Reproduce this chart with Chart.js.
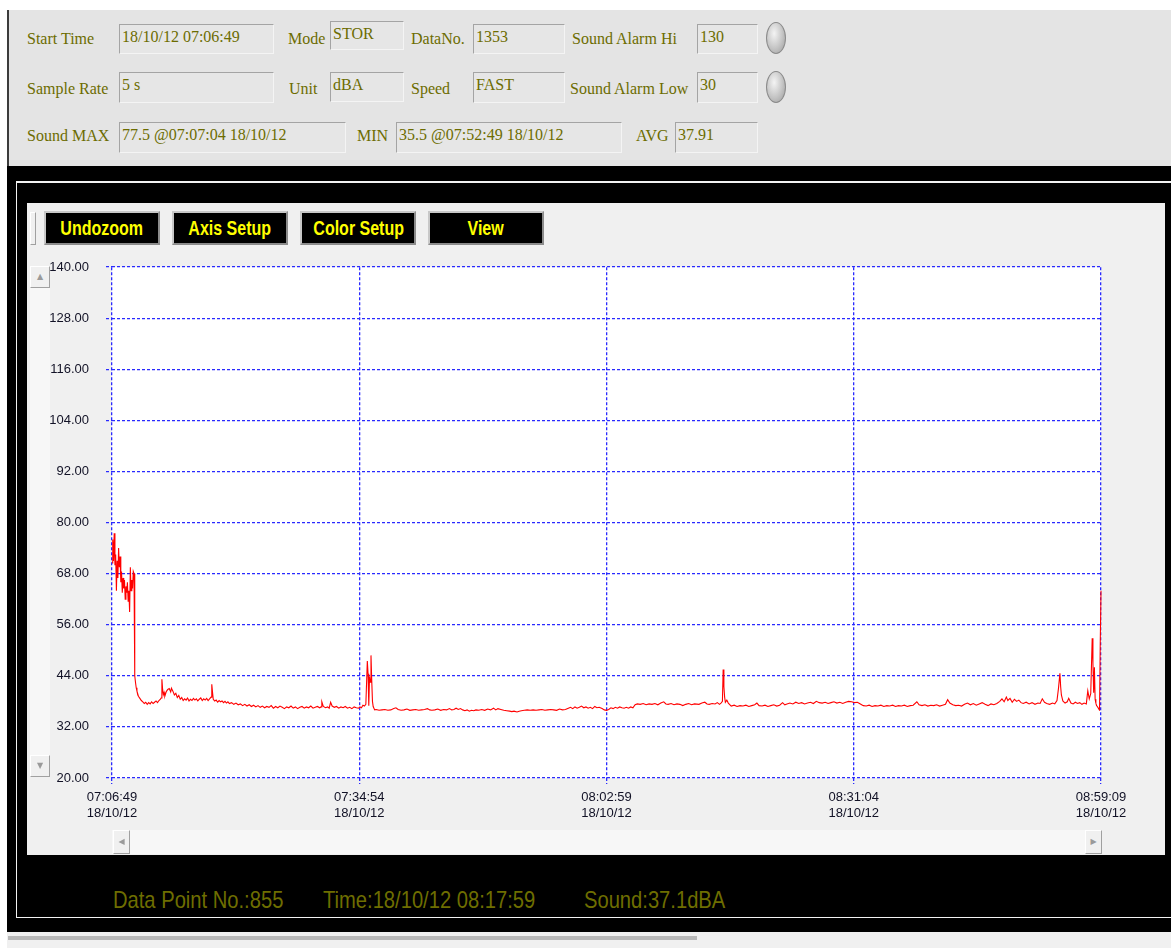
<!DOCTYPE html>
<html>
<head>
<meta charset="utf-8">
<script src="https://cdn.jsdelivr.net/npm/chart.js@4.4.1/dist/chart.umd.min.js"></script>
<style>
  body { margin:0; width:1171px; height:948px; overflow:hidden; background:#fff; position:relative; }
  .abs { position:absolute; }
  #header { left:7px; top:10px; width:1164px; height:156px; background:#e4e4e4; border-left:2px solid #3c3c3c; box-sizing:border-box; }
  #frame { left:7px; top:166px; width:1164px; height:766px; background:#000; }
  #outline { left:16px; top:181px; width:1170px; height:737px; border:1px solid #f2f2f2; border-top-width:2px; box-sizing:border-box; }
  #panel { left:27px; top:203px; width:1138px; height:652px; background:#f0f0f0; }
  #foot { left:7px; top:932px; width:1164px; height:16px; background:#f0f0f0; }
  #footbar { left:8px; top:936px; width:689px; height:4px; background:#b8b8b8; }
  .lbl { position:absolute; font-family:"Liberation Serif","Times New Roman",serif; font-size:16px; line-height:16px; color:#6c6c00; white-space:nowrap; }
  .box { position:absolute; box-sizing:border-box; border:1px solid #a4a4a4; border-right-color:#f4f4f4; border-bottom-color:#f4f4f4; background:#e6e6e6;
         font-family:"Liberation Serif","Times New Roman",serif; font-size:16px; line-height:16px; color:#6c6c00; padding:4px 2px 0 2px; white-space:nowrap; }
  .led { position:absolute; width:20px; height:32px; border-radius:50%; box-sizing:border-box; border:1px solid #8a8a8a;
         background:radial-gradient(ellipse at 40% 35%, #f4f4f4 0%, #c4c4c4 55%, #9a9a9a 100%); }
  .btn { position:absolute; width:116px; height:34px; box-sizing:border-box; background:#000; border:2px solid #c8c8c8; border-right-color:#8c8c8c; border-bottom-color:#8c8c8c;
         color:#ffff00; font-family:"Liberation Sans",Arial,sans-serif; font-weight:bold; font-size:20px; line-height:30px; text-align:center; white-space:nowrap; overflow:hidden; }
  .btn span { display:inline-block; transform:scaleX(0.8); transform-origin:center; }
  .sbtn { position:absolute; box-sizing:border-box; background:#f0f0f0; border:1px solid #fff; border-right-color:#a0a0a0; border-bottom-color:#a0a0a0;
          color:#9a9a9a; font-size:8px; text-align:center; font-family:"DejaVu Sans",sans-serif; }
  .track { position:absolute; background:#f7f7f7; }
  .status { position:absolute; top:886px; font-family:"Liberation Sans",Arial,sans-serif; font-size:24px; line-height:28px; color:#6e6e00; white-space:nowrap;
            transform:scaleX(0.84); transform-origin:left center; }
  #chartBox { left:30px; top:242px; width:1110px; height:608px; }
  #chartBox canvas { display:block; }
</style>
</head>
<body>
<div class="abs" id="header"></div>
<div class="abs" id="frame"></div>
<div class="abs" id="outline"></div>
<div class="abs" id="panel"></div>
<div class="abs" id="foot"></div>
<div class="abs" id="footbar"></div>

<div class="sbtn" style="left:30px;top:212px;width:6px;height:33px;"></div>
<div class="btn" style="left:44px;top:211px;"><span>Undozoom</span></div>
<div class="btn" style="left:172px;top:211px;"><span>Axis Setup</span></div>
<div class="btn" style="left:300px;top:211px;"><span>Color Setup</span></div>
<div class="btn" style="left:428px;top:211px;"><span>View</span></div>

<div class="track" style="left:30px;top:266px;width:20px;height:511px;"></div>
<div class="track" style="left:112px;top:830px;width:989px;height:24px;"></div>

<div class="abs" id="chartBox"><canvas id="soundChart" width="1110" height="608"></canvas></div>

<div class="sbtn" style="left:30px;top:266px;width:20px;height:22px;line-height:20px;">&#9650;</div>
<div class="sbtn" style="left:30px;top:755px;width:20px;height:22px;line-height:20px;">&#9660;</div>
<div class="sbtn" style="left:113px;top:830px;width:17px;height:24px;line-height:22px;">&#9664;</div>
<div class="sbtn" style="left:1085px;top:830px;width:17px;height:24px;line-height:22px;">&#9654;</div>

<div class="status" style="left:113px;">Data Point No.:855</div>
<div class="status" style="left:323px;">Time:18/10/12 08:17:59</div>
<div class="status" style="left:584px;">Sound:37.1dBA</div>

<script>
// header fields of the meter record
const headerLabels = [
  ['Start Time', 27, 31], ['Mode', 288, 31], ['DataNo.', 411, 31], ['Sound Alarm Hi', 572, 31],
  ['Sample Rate', 27, 81], ['Unit', 289, 81], ['Speed', 411, 81], ['Sound Alarm Low', 570, 81],
  ['Sound MAX', 27, 128], ['MIN', 357, 128], ['AVG', 636, 128]
];
const headerBoxes = [
  ['18/10/12 07:06:49', 119, 24, 155, 30], ['STOR', 330, 21, 74, 29], ['1353', 473, 24, 92, 30], ['130', 697, 24, 61, 30],
  ['5 s', 119, 72, 155, 31], ['dBA', 330, 72, 74, 30], ['FAST', 473, 72, 92, 31], ['30', 697, 72, 61, 31],
  ['77.5 @07:07:04 18/10/12', 119, 122, 227, 31], ['35.5 @07:52:49 18/10/12', 396, 122, 226, 31], ['37.91', 675, 122, 83, 31]
];
headerLabels.forEach(([t, x, y]) => {
  const d = document.createElement('div');
  d.className = 'lbl'; d.textContent = t; d.style.left = x + 'px'; d.style.top = y + 'px';
  document.body.appendChild(d);
});
headerBoxes.forEach(([t, x, y, w, h]) => {
  const d = document.createElement('div');
  d.className = 'box'; d.textContent = t;
  d.style.left = x + 'px'; d.style.top = y + 'px'; d.style.width = w + 'px'; d.style.height = h + 'px';
  document.body.appendChild(d);
});
[[766, 22], [766, 71]].forEach(([x, y]) => {
  const d = document.createElement('div');
  d.className = 'led'; d.style.left = x + 'px'; d.style.top = y + 'px';
  document.body.appendChild(d);
});

// axis ticks
const xTickSeconds = [0, 1685, 3370, 5055, 6740];
const xTickTimes = ['07:06:49', '07:34:54', '08:02:59', '08:31:04', '08:59:09'];
const xTickDates = ['18/10/12', '18/10/12', '18/10/12', '18/10/12', '18/10/12'];
const yTickValues = [20, 32, 44, 56, 68, 80, 92, 104, 116, 128, 140];

// seconds since 07:06:49 and sound level (dBA)
const elapsedSec = [
  0, 5, 10, 15, 20, 25, 30, 35, 40, 45, 50, 55, 60, 65, 70, 75, 80, 85, 90, 95,
  100, 105, 110, 115, 120, 125, 130, 135, 140, 145, 150, 155,
  160, 165, 170, 175, 180, 190, 200, 210, 220, 230, 240, 250, 260, 270, 280, 290, 300, 310,
  320, 330, 335, 340, 345, 350, 355, 360, 370, 380, 390, 400, 405, 415, 425, 435, 445, 455,
  465, 475, 485, 495, 505, 515, 525, 535, 545, 555, 565, 575, 585, 595, 605, 615, 625, 635,
  645, 655, 665, 675, 680, 685, 690, 700, 710, 720, 730, 740, 750, 760, 770, 780, 790, 800,
  815, 830, 845, 860, 875, 890,
  905, 920, 935, 950, 965, 980, 995, 1010, 1025, 1040, 1055, 1070, 1085, 1100, 1115, 1130,
  1145, 1160, 1175, 1190, 1205, 1220, 1235, 1250, 1265, 1280, 1295, 1310, 1325, 1340, 1355,
  1370, 1385, 1400, 1415, 1425, 1430, 1440, 1455, 1470, 1480, 1490, 1500, 1515, 1530, 1545,
  1560, 1575, 1590, 1605, 1620, 1635, 1650, 1665, 1680, 1690, 1700, 1710, 1720, 1730, 1740,
  1745, 1750, 1755, 1760, 1765, 1770, 1775, 1780, 1790,
  1800, 1820, 1840, 1860, 1880, 1900, 1920, 1935, 1950, 1970, 1990, 2010, 2030, 2050, 2070,
  2090, 2110, 2130, 2150, 2165, 2180, 2200, 2220, 2240, 2260, 2280, 2300, 2315, 2330, 2345,
  2360, 2375, 2390, 2405, 2420, 2435, 2450, 2465, 2480, 2500, 2520, 2540, 2560, 2580, 2600,
  2615, 2630, 2650, 2670, 2690, 2710, 2725, 2740, 2760, 2775, 2790, 2810, 2830, 2850, 2870,
  2890, 2910, 2930, 2950, 2970, 2990, 3010, 3030, 3050, 3070, 3090, 3110, 3125, 3140, 3155,
  3170, 3185, 3200, 3215, 3230, 3245, 3260, 3275, 3290, 3305, 3320, 3340, 3355, 3370, 3385,
  3400, 3415, 3430, 3445, 3460, 3475, 3490, 3505, 3520, 3535, 3550, 3565, 3580, 3600, 3620,
  3640, 3660, 3680, 3700, 3720, 3740, 3760, 3775, 3790, 3810, 3830, 3850, 3870, 3890, 3910,
  3930, 3950, 3970, 4000, 4020, 4040, 4055, 4070, 4090, 4110, 4125, 4140, 4150, 4160, 4165,
  4170, 4175, 4180, 4190, 4200,
  4220, 4240, 4260, 4280, 4300, 4320, 4340, 4360, 4380, 4395, 4410, 4430, 4450, 4470, 4490,
  4510, 4530, 4550, 4570, 4585, 4600, 4620, 4640, 4660, 4680, 4700, 4720, 4740, 4760, 4780,
  4800, 4820, 4840, 4860, 4880, 4900, 4920, 4940, 4960, 4980, 5000, 5020, 5040, 5060, 5080,
  5100, 5120, 5140, 5160, 5180, 5200, 5220, 5240, 5260, 5280, 5300, 5320, 5340, 5360, 5380,
  5400, 5420, 5440, 5460, 5485, 5500, 5520, 5540, 5560, 5580, 5600, 5620, 5640, 5660, 5680,
  5695, 5710, 5730, 5750, 5770, 5790, 5810, 5830, 5850, 5870, 5890, 5910, 5930, 5950, 5970,
  5990, 6010, 6030, 6050, 6065, 6080, 6095, 6105, 6120, 6135, 6150, 6165, 6180, 6195, 6210,
  6230, 6250, 6270, 6290, 6310, 6325, 6340, 6355, 6370, 6390, 6410, 6425, 6440, 6450, 6460,
  6465, 6470, 6480, 6495, 6510, 6520, 6535, 6550, 6565, 6580, 6595, 6610, 6625, 6640, 6650,
  6660, 6670, 6680, 6685, 6690, 6695, 6700, 6705, 6710, 6715, 6720, 6725, 6730, 6735, 6740,
  6745
];
const soundLevel = [
  70.5, 76.0, 71.0, 77.5, 70.0, 72.5, 64.0, 71.0, 67.0, 74.0, 69.5, 72.0, 66.0, 68.5, 63.5, 67.0, 64.5, 66.5, 62.0, 65.0,
  63.5, 66.0, 61.5, 64.0, 59.0, 69.5, 64.0, 66.5, 64.5, 68.5, 68.0, 44.0,
  42.5, 41.2, 40.4, 39.8, 39.2, 38.7, 38.2, 37.9, 37.5, 37.8, 37.3, 37.7, 37.4, 37.9, 37.5, 37.8, 38.1, 37.7,
  38.2, 38.5, 38.8, 43.2, 40.8, 39.6, 40.1, 39.2, 40.3, 40.8, 41.0, 40.2, 41.1, 40.4, 39.5, 39.9, 38.9, 39.4,
  38.5, 38.9, 38.2, 38.6, 38.3, 38.8, 38.1, 38.5, 38.2, 38.7, 38.3, 38.6, 38.1, 38.5, 38.8, 38.2, 38.6, 38.3,
  38.7, 38.2, 38.6, 39.0, 42.0, 40.2, 38.5, 38.1, 38.3, 37.8, 38.2, 37.9, 38.1, 37.7, 38.0, 37.6, 37.9, 37.5,
  37.7, 37.3, 37.6, 37.2, 37.4, 37.0,
  37.3, 36.9, 37.2, 36.8, 37.1, 36.7, 37.0, 36.6, 36.9, 36.5, 36.8, 36.6, 37.0, 36.4, 36.8, 36.5,
  36.9, 36.6, 36.3, 36.7, 36.5, 36.9, 36.4, 36.7, 36.3, 36.6, 36.8, 36.4, 36.7, 36.5, 36.9,
  36.4, 36.6, 36.8, 36.5, 36.7, 37.9, 36.8, 36.5, 36.7, 36.4, 37.8, 36.9, 36.6, 36.8, 36.4,
  36.7, 36.5, 36.8, 36.4, 36.6, 36.3, 36.7, 36.5, 36.4, 36.7, 36.5, 37.1, 36.9, 37.3, 47.5,
  44.5, 37.0, 43.8, 42.5, 48.8, 43.0, 38.0, 36.8, 36.0,
  36.1, 35.9, 36.0, 36.1, 35.9, 36.0, 36.3, 36.5, 36.1, 35.9, 36.0, 36.2, 35.9, 36.0, 36.1,
  35.9, 36.0, 36.1, 36.3, 36.0, 35.9, 36.0, 36.2, 35.9, 36.1, 36.0, 36.3, 36.0, 36.1, 36.4,
  36.1, 36.3, 36.0, 35.8, 36.0, 35.7, 35.9, 35.8, 36.0, 35.9, 36.1, 35.9, 36.2, 36.0, 36.4,
  36.0, 36.3, 36.1, 35.9, 35.8, 35.7, 35.6, 35.7, 35.5, 35.7, 35.8, 35.9, 36.0, 35.9, 36.0,
  35.9, 36.0, 36.1, 35.9, 36.0, 36.1, 36.0, 35.9, 36.2, 36.0, 36.1, 36.4, 36.6, 36.3, 36.7,
  36.4, 36.6, 36.9, 36.5, 36.7, 36.4, 36.6, 36.3, 36.8, 36.5, 36.6, 36.3, 36.0, 35.9, 36.1,
  36.5, 36.3, 36.6, 36.4, 36.7, 36.5, 36.4, 36.6, 36.4, 36.7, 36.5, 37.2, 37.4, 37.3, 37.5,
  37.2, 37.4, 37.3, 37.5, 37.2, 37.6, 37.9, 37.4, 37.3, 37.5, 37.2, 37.4, 37.3, 37.0, 37.3,
  37.5, 37.2, 37.4, 37.3, 37.6, 37.8, 37.4, 37.3, 37.5, 37.4, 37.7, 37.3, 37.6, 38.0, 45.5,
  41.5, 39.0, 37.8, 38.3, 37.6,
  36.9, 37.1, 36.8, 37.0, 36.9, 37.1, 36.8, 37.0, 37.2, 37.6, 37.0, 36.9, 37.1, 36.8, 37.0,
  37.2, 36.9, 37.1, 37.7, 37.2, 37.4, 37.6, 37.4, 37.8, 37.5, 37.7, 37.4, 37.6, 37.8, 37.5,
  38.0, 37.7, 37.6, 37.8, 37.5, 37.7, 37.9, 37.6, 37.8, 37.5, 37.8, 38.0, 37.9, 37.7, 37.8,
  37.4, 37.0, 36.9, 37.1, 36.8, 37.0, 36.9, 37.1, 36.8, 37.0, 36.9, 37.1, 36.8, 37.0, 36.9,
  37.1, 36.8, 37.0, 37.1, 37.9, 37.2, 37.0, 37.2, 36.9, 37.1, 37.0, 37.2, 36.9, 37.1, 37.3,
  38.4, 37.6, 37.2, 37.0, 37.1, 36.9, 37.3, 37.6, 37.2, 37.5, 37.1, 37.4, 37.7, 37.3, 37.0,
  37.4, 37.2, 37.5, 38.0, 38.6, 37.9, 39.0, 38.2, 38.7, 37.8, 38.5, 38.0, 38.3, 37.7, 37.5,
  37.8, 37.4, 37.7, 37.3, 37.6, 37.5, 38.6, 37.8, 37.5, 37.3, 37.6, 37.4, 38.2, 41.0, 44.6,
  41.5, 39.5, 38.1, 37.6, 37.9, 38.7, 37.6, 37.4, 37.8, 37.5, 37.7, 37.3, 37.6, 37.4, 40.5,
  38.6, 39.8, 52.8, 47.0, 40.0, 46.0, 38.5, 37.6, 37.0, 36.8, 36.5, 36.2, 36.0, 52.0, 64.0,
  47.0
];

const tickFont = { family: '"Liberation Sans", Arial, sans-serif', size: 13, lineHeight: 1.25 };
const gridBlue = '#2a2aff';

const plotBackground = {
  id: 'plotBackground',
  beforeDraw(chart) {
    const { ctx, chartArea: a } = chart;
    ctx.save();
    ctx.fillStyle = '#ffffff';
    ctx.fillRect(a.left, a.top, a.right - a.left, a.bottom - a.top);
    ctx.restore();
  }
};

new Chart(document.getElementById('soundChart'), {
  type: 'line',
  data: {
    datasets: [{
      label: 'Sound (dBA)',
      data: elapsedSec.map((t, i) => ({ x: t, y: soundLevel[i] })),
      borderColor: '#ff0000',
      borderWidth: 1.1,
      pointRadius: 0,
      tension: 0,
      fill: false,
      clip: { left: 0, top: 0, right: 4, bottom: 0 }
    }]
  },
  options: {
    responsive: false,
    animation: false,
    events: [],
    layout: { padding: { top: 8, right: 39, bottom: 0, left: 0 } },
    plugins: { legend: { display: false }, tooltip: { enabled: false } },
    scales: {
      x: {
        type: 'linear',
        min: 0,
        max: 6740,
        afterBuildTicks: s => { s.ticks = xTickSeconds.map(v => ({ value: v })); },
        afterFit: s => { s.height = 72; },
        ticks: {
          autoSkip: false, maxRotation: 0, padding: 5, color: '#121226', font: tickFont,
          callback: (v, i) => [xTickTimes[i], xTickDates[i]]
        },
        grid: { color: gridBlue, lineWidth: 1.3, tickLength: 6, tickColor: gridBlue, tickBorderDash: [3, 2] },
        border: { display: false, dash: [3, 2] }
      },
      y: {
        min: 20,
        max: 140,
        afterBuildTicks: s => { s.ticks = yTickValues.map(v => ({ value: v })); },
        afterFit: s => { s.width = 82; },
        ticks: { padding: 17, color: '#121226', font: tickFont, callback: v => v.toFixed(2) },
        grid: { color: gridBlue, lineWidth: 1.3, tickLength: 6, tickColor: gridBlue, tickBorderDash: [3, 2] },
        border: { display: false, dash: [3, 2] }
      }
    }
  },
  plugins: [plotBackground]
});
</script>
</body>
</html>
